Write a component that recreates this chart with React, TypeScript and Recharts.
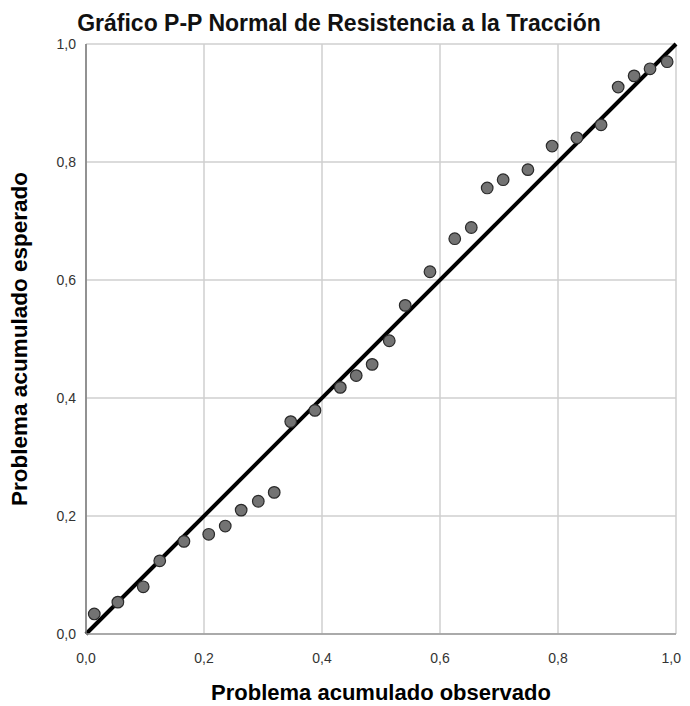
import { ScatterChart, Scatter, XAxis, YAxis, CartesianGrid, ReferenceLine } from "recharts";

const title = "Gráfico P-P Normal de Resistencia a la Tracción";
const xLabel = "Problema acumulado observado";
const yLabel = "Problema acumulado esperado";

const observed = [
  0.014, 0.054, 0.097, 0.125, 0.166, 0.208, 0.236, 0.263, 0.292, 0.319,
  0.347, 0.388, 0.431, 0.458, 0.485, 0.514, 0.541, 0.583, 0.625, 0.653,
  0.68, 0.707, 0.749, 0.79, 0.832, 0.873, 0.902, 0.929, 0.956, 0.985,
];
const expected = [
  0.034, 0.054, 0.08, 0.124, 0.157, 0.169, 0.183, 0.21, 0.225, 0.24,
  0.36, 0.379, 0.418, 0.438, 0.457, 0.497, 0.557, 0.614, 0.67, 0.689,
  0.756, 0.77, 0.787, 0.827, 0.841, 0.863, 0.927, 0.946, 0.958, 0.97,
];
const ticks = [0, 0.2, 0.4, 0.6, 0.8, 1];

const points = observed.map((x, i) => ({ x, y: expected[i] }));

const fmt = (v: number) => v.toFixed(1).replace(".", ",");

const font = "'Liberation Sans', Arial, sans-serif";

const Dot = (props: any) => (
  <circle cx={props.cx} cy={props.cy} r={5.8} fill="#737373" stroke="#2a2a2a" strokeWidth={1.2} />
);

// x tick; the last one is pulled in a little so it is not cut at the page edge
const XTick = (props: any) => {
  const { x, y, payload } = props;
  const last = payload.value === ticks[ticks.length - 1];
  return (
    <text
      x={last ? x + 5 : x}
      y={y}
      dy="0.71em"
      textAnchor={last ? "end" : "middle"}
      fill="#333"
      fontSize={14}
      fontFamily={font}
    >
      {fmt(payload.value)}
    </text>
  );
};

const XTitle = (props: any) => {
  const vb = props.viewBox || {};
  return (
    <text
      x={vb.x + vb.width / 2}
      y={vb.y + 66}
      textAnchor="middle"
      fontSize={22}
      fontWeight="bold"
      fontFamily={font}
      fill="#000"
    >
      {xLabel}
    </text>
  );
};

const YTitle = (props: any) => {
  const vb = props.viewBox || {};
  const x = vb.x + 19;
  const y = vb.y + vb.height / 2;
  return (
    <text
      x={x}
      y={y}
      transform={`rotate(-90, ${x}, ${y})`}
      textAnchor="middle"
      fontSize={22.5}
      fontWeight="bold"
      fontFamily={font}
      fill="#000"
    >
      {yLabel}
    </text>
  );
};

export default function App() {
  return (
    <div style={{ position: "relative", width: 674, height: 698, fontFamily: font }}>
      <div
        style={{
          position: "absolute",
          top: 4,
          left: 0,
          width: 662,
          textAlign: "center",
          fontSize: 23,
          fontWeight: "bold",
          lineHeight: "23px",
          color: "#111",
          whiteSpace: "nowrap",
        }}
      >
        {title}
      </div>
      <ScatterChart width={674} height={698} margin={{ top: 36, right: 6, left: 0, bottom: 0 }}>
        <CartesianGrid stroke="#cfcfcf" strokeWidth={1.5} />
        <XAxis
          type="number"
          dataKey="x"
          domain={[0, 1]}
          ticks={ticks}
          height={72}
          stroke="#9a9a9a"
          strokeWidth={1.5}
          tickLine={false}
          tickMargin={13}
          tick={<XTick />}
          label={<XTitle />}
        />
        <YAxis
          type="number"
          dataKey="y"
          domain={[0, 1]}
          ticks={ticks}
          tickFormatter={fmt}
          width={78}
          stroke="#7a7a7a"
          strokeWidth={1.5}
          tickLine={false}
          tickMargin={4}
          tick={{ fill: "#333", fontSize: 14, fontFamily: font }}
          label={<YTitle />}
        />
        <Scatter data={points} shape={Dot} isAnimationActive={false} />
        <ReferenceLine
          segment={[
            { x: 0, y: 0 },
            { x: 1, y: 1 },
          ]}
          stroke="#000"
          strokeWidth={4}
        />
      </ScatterChart>
    </div>
  );
}
